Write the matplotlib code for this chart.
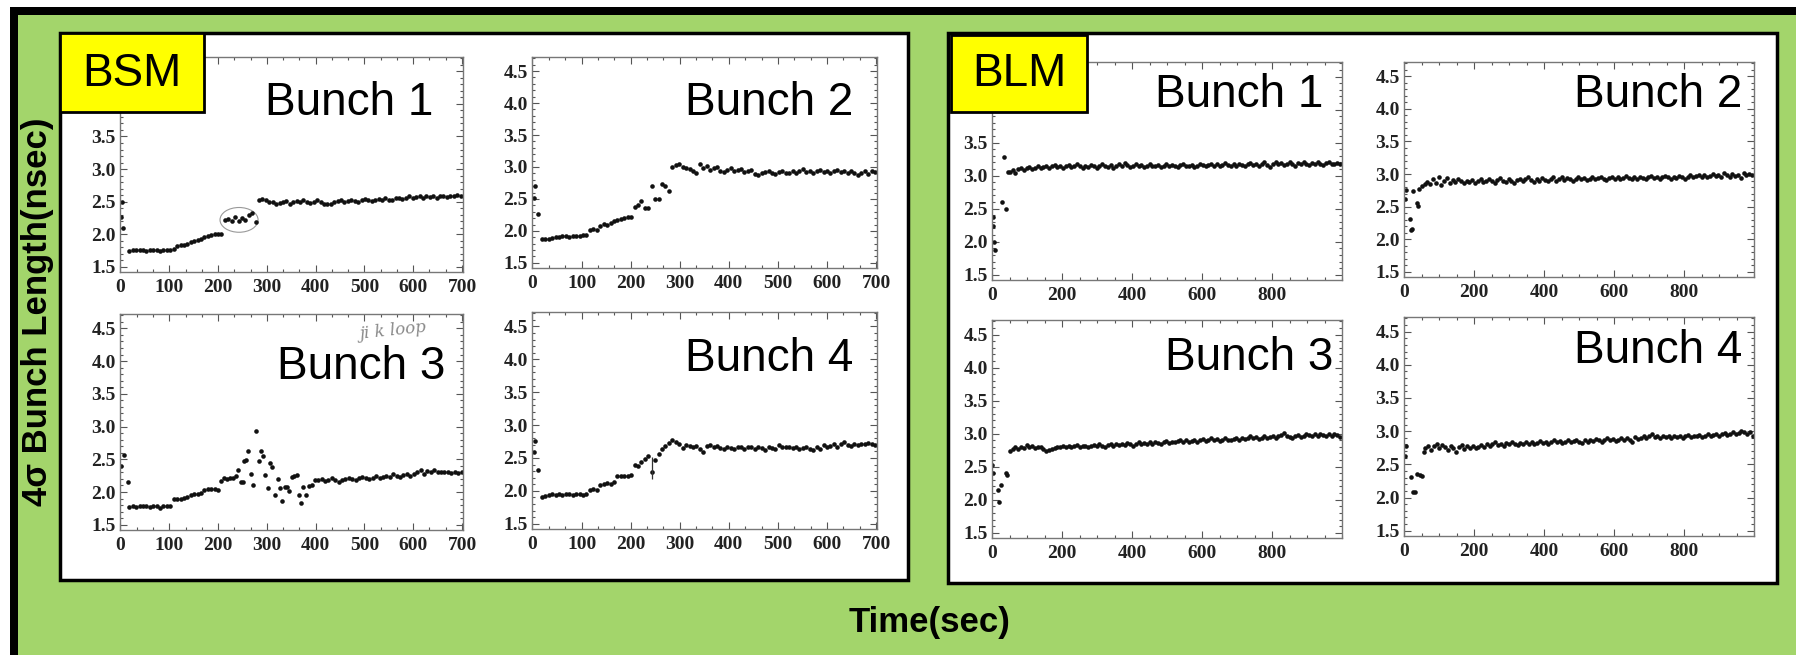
import matplotlib.pyplot as plt
from matplotlib.patches import Rectangle, Ellipse
from matplotlib.ticker import MultipleLocator
import numpy as np

W, H = 1796, 655
GREEN = '#a3d56b'

# ---------------- BSM (streak camera), sampled every 7 s ----------------
bsm1_early_t = [1, 4, 6]
bsm1_early_v = [2.27, 2.50, 2.09]
bsm1_v = [1.74, 1.75, 1.75, 1.76, 1.75, 1.74, 1.76, 1.75, 1.75, 1.74,
          1.75, 1.76, 1.75, 1.78, 1.82, 1.83, 1.84, 1.85, 1.88, 1.90,
          1.91, 1.93, 1.95, 1.97, 1.99, 2.00, 2.01, 2.01, 2.22, 2.24,
          2.21, 2.26, 2.20, 2.25, 2.22, 2.29, 2.33, 2.19, 2.53, 2.54,
          2.52, 2.50, 2.49, 2.47, 2.48, 2.50, 2.51, 2.46, 2.49, 2.51,
          2.49, 2.52, 2.50, 2.48, 2.50, 2.52, 2.49, 2.47, 2.46, 2.47,
          2.49, 2.51, 2.52, 2.50, 2.51, 2.53, 2.51, 2.50, 2.52, 2.54,
          2.52, 2.51, 2.53, 2.54, 2.52, 2.55, 2.53, 2.52, 2.55, 2.56,
          2.54, 2.56, 2.58, 2.55, 2.57, 2.59, 2.56, 2.58, 2.57, 2.59,
          2.56, 2.58, 2.59, 2.57, 2.59, 2.58, 2.60, 2.58]
bsm1_t0 = 18

bsm2_early_t = [3, 6, 12]
bsm2_early_v = [2.51, 2.71, 2.27]
bsm2_v = [1.87, 1.87, 1.88, 1.89, 1.91, 1.91, 1.92, 1.92, 1.91, 1.92,
          1.92, 1.92, 1.93, 1.93, 2.01, 2.03, 2.02, 2.08, 2.11, 2.10,
          2.13, 2.16, 2.17, 2.18, 2.20, 2.21, 2.21, 2.38, 2.41, 2.47,
          2.36, 2.36, 2.70, 2.50, 2.50, 2.73, 2.70, 2.63, 3.00, 3.03,
          3.05, 3.00, 2.99, 2.97, 2.94, 2.91, 3.04, 2.98, 3.01, 2.96,
          2.98, 3.00, 2.94, 2.92, 2.96, 2.98, 2.93, 2.95, 2.97, 2.92,
          2.94, 2.96, 2.89, 2.88, 2.90, 2.92, 2.94, 2.91, 2.89, 2.92,
          2.93, 2.90, 2.91, 2.93, 2.90, 2.94, 2.97, 2.92, 2.94, 2.91,
          2.93, 2.96, 2.92, 2.94, 2.90, 2.93, 2.95, 2.92, 2.94, 2.91,
          2.93, 2.90, 2.88, 2.91, 2.93, 2.89, 2.93, 2.92]
bsm2_t0 = 19

bsm3_early_t = [1, 8, 15]
bsm3_early_v = [2.40, 2.57, 2.15]
bsm3_v = [1.77, 1.78, 1.77, 1.78, 1.79, 1.78, 1.77, 1.79, 1.78, 1.76,
          1.78, 1.79, 1.78, 1.89, 1.90, 1.90, 1.91, 1.92, 1.96, 1.97,
          1.97, 1.98, 2.03, 2.04, 2.05, 2.04, 2.03]
bsm3_t0 = 18
# unstable stretch between 200 s and 400 s
bsm3_mid_t = [207, 212, 218, 224, 230, 236, 241, 246, 251, 253,
              258, 262, 267, 272, 277, 283, 287, 292, 297, 302,
              306, 311, 316, 322, 327, 332, 337, 342, 346, 351,
              356, 361, 366, 370, 375, 381, 386, 392]
bsm3_mid_v = [2.17, 2.21, 2.20, 2.22, 2.21, 2.24, 2.33, 2.16, 2.15, 2.47,
              2.49, 2.63, 2.28, 2.10, 2.94, 2.48, 2.63, 2.55, 2.26, 2.06,
              2.44, 2.38, 1.96, 2.20, 2.06, 1.86, 2.08, 2.08, 2.01, 2.23,
              2.25, 2.26, 1.96, 1.84, 2.07, 1.96, 2.09, 2.10]
bsm3_late_v = [2.19, 2.18, 2.20, 2.17, 2.19, 2.21, 2.18, 2.16, 2.19, 2.20,
               2.22, 2.20, 2.18, 2.21, 2.23, 2.22, 2.20, 2.22, 2.24, 2.21,
               2.23, 2.25, 2.23, 2.27, 2.25, 2.23, 2.26, 2.28, 2.25, 2.27,
               2.31, 2.33, 2.28, 2.32, 2.30, 2.33, 2.31, 2.30, 2.31, 2.30,
               2.29, 2.30, 2.29, 2.30]
bsm3_late_t0 = 398

bsm4_early_t = [3, 6, 12]
bsm4_early_v = [2.59, 2.76, 2.31]
bsm4_v = [1.91, 1.92, 1.94, 1.95, 1.94, 1.95, 1.94, 1.95, 1.95, 1.94,
          1.95, 1.95, 1.94, 1.95, 2.01, 2.03, 2.02, 2.09, 2.11, 2.12,
          2.11, 2.13, 2.22, 2.23, 2.22, 2.23, 2.24, 2.40, 2.38, 2.44,
          2.48, 2.53, 2.28, 2.47, 2.56, 2.63, 2.68, 2.73, 2.77, 2.75,
          2.71, 2.65, 2.70, 2.68, 2.66, 2.68, 2.64, 2.59, 2.68, 2.69,
          2.66, 2.68, 2.65, 2.64, 2.67, 2.65, 2.63, 2.66, 2.67, 2.64,
          2.66, 2.67, 2.64, 2.66, 2.65, 2.62, 2.66, 2.65, 2.63, 2.70,
          2.67, 2.66, 2.67, 2.65, 2.66, 2.64, 2.65, 2.67, 2.64, 2.62,
          2.67, 2.64, 2.70, 2.66, 2.68, 2.71, 2.67, 2.72, 2.74, 2.70,
          2.68, 2.71, 2.70, 2.72, 2.71, 2.73, 2.71, 2.69]
bsm4_t0 = 19
bsm4_bar_t = [243]
bsm4_bar_lo = [2.18]
bsm4_bar_hi = [2.52]

# ---------------- BLM (loss monitor), sampled every 8 s ----------------
blm1_early_t = [2, 3, 6, 9, 27, 34, 40, 45]
blm1_early_v = [2.38, 2.23, 2.00, 1.87, 2.60, 3.28, 2.49, 3.05]
blm1_v = [3.05, 3.08, 3.04, 3.10, 3.12, 3.09, 3.11, 3.13, 3.10, 3.12,
          3.14, 3.11, 3.13, 3.15, 3.12, 3.14, 3.16, 3.13, 3.15, 3.12,
          3.14, 3.16, 3.13, 3.15, 3.17, 3.14, 3.12, 3.15, 3.13, 3.16,
          3.14, 3.12, 3.15, 3.18, 3.14, 3.13, 3.16, 3.12, 3.15, 3.17,
          3.14, 3.19, 3.16, 3.13, 3.15, 3.17, 3.14, 3.16, 3.13, 3.15,
          3.18, 3.15, 3.14, 3.16, 3.13, 3.15, 3.17, 3.14, 3.16, 3.15,
          3.13, 3.16, 3.18, 3.15, 3.14, 3.16, 3.13, 3.15, 3.17, 3.16,
          3.14, 3.16, 3.18, 3.15, 3.17, 3.14, 3.16, 3.19, 3.16, 3.15,
          3.17, 3.15, 3.18, 3.16, 3.14, 3.17, 3.19, 3.16, 3.18, 3.15,
          3.17, 3.20, 3.16, 3.13, 3.18, 3.21, 3.17, 3.19, 3.16, 3.18,
          3.20, 3.17, 3.15, 3.19, 3.17, 3.20, 3.18, 3.16, 3.19, 3.17,
          3.20, 3.18, 3.16, 3.19, 3.21, 3.18, 3.17, 3.19, 3.18]
blm1_t0 = 50

blm2_early_t = [2, 5, 16, 20, 23, 26, 37, 40, 42]
blm2_early_v = [2.62, 2.75, 2.31, 2.14, 2.16, 2.74, 2.56, 2.51, 2.77]
blm2_v = [2.82, 2.85, 2.88, 2.84, 2.92, 2.87, 2.96, 2.83, 2.90, 2.94,
          2.86, 2.91, 2.88, 2.93, 2.89, 2.86, 2.90, 2.88, 2.91, 2.87,
          2.89, 2.92, 2.88, 2.90, 2.93, 2.89, 2.87, 2.91, 2.94, 2.90,
          2.88, 2.92, 2.90, 2.87, 2.91, 2.93, 2.89, 2.92, 2.95, 2.91,
          2.88, 2.93, 2.90, 2.94, 2.91, 2.89, 2.92, 2.96, 2.90, 2.93,
          2.95, 2.91, 2.94, 2.92, 2.89, 2.93, 2.96, 2.92, 2.94, 2.91,
          2.93, 2.95, 2.92, 2.94, 2.96, 2.93, 2.91, 2.94, 2.96, 2.93,
          2.95, 2.92, 2.94, 2.97, 2.94, 2.92, 2.95, 2.93, 2.96, 2.94,
          2.92, 2.95, 2.97, 2.94, 2.96, 2.93, 2.95, 2.97, 2.95, 2.93,
          2.96, 2.94, 2.97, 2.95, 2.93, 2.96, 2.98, 2.95, 2.97, 2.99,
          2.96, 2.98, 2.95, 2.97, 3.00, 2.97, 2.99, 2.96, 3.01, 2.98,
          2.96, 3.00, 2.97, 2.99, 2.94, 3.01, 2.98, 3.00, 2.99]
blm2_t0 = 50

blm3_early_t = [0, 3, 15, 18, 25, 38, 41]
blm3_early_v = [2.52, 2.40, 2.15, 1.97, 2.22, 2.40, 2.38]
blm3_v = [2.74, 2.77, 2.79, 2.76, 2.80, 2.78, 2.83, 2.79, 2.81, 2.78,
          2.80, 2.79, 2.76, 2.73, 2.75, 2.77, 2.78, 2.80, 2.79, 2.81,
          2.80, 2.82, 2.79, 2.81, 2.83, 2.80, 2.82, 2.81, 2.79, 2.82,
          2.83, 2.81, 2.84, 2.82, 2.80, 2.83, 2.85, 2.82, 2.84, 2.83,
          2.85, 2.83, 2.86, 2.84, 2.82, 2.85, 2.87, 2.84, 2.86, 2.85,
          2.87, 2.85, 2.88, 2.86, 2.84, 2.87, 2.89, 2.86, 2.88, 2.87,
          2.89, 2.91, 2.88, 2.90, 2.87, 2.89, 2.91, 2.88, 2.90, 2.92,
          2.89, 2.91, 2.93, 2.90, 2.92, 2.89, 2.91, 2.93, 2.91, 2.90,
          2.92, 2.94, 2.91, 2.93, 2.92, 2.94, 2.96, 2.93, 2.95, 2.92,
          2.94, 2.96, 2.93, 2.95, 2.97, 2.94, 2.96, 2.98, 3.01, 2.97,
          2.95, 2.93, 2.96, 2.98, 2.95, 2.97, 3.00, 2.98, 2.96, 2.99,
          2.97, 3.00, 2.98, 2.96, 2.99, 2.97, 3.00, 2.98, 2.95]
blm3_t0 = 50

blm4_early_t = [2, 4, 18, 25, 30, 37, 44, 51, 56]
blm4_early_v = [2.62, 2.77, 2.31, 2.08, 2.09, 2.36, 2.34, 2.33, 2.69]
blm4_v = [2.75, 2.78, 2.72, 2.77, 2.80, 2.74, 2.79, 2.76, 2.71, 2.78,
          2.74, 2.68, 2.76, 2.79, 2.73, 2.77, 2.75, 2.78, 2.74, 2.76,
          2.79, 2.76, 2.81, 2.77, 2.80, 2.83, 2.79, 2.81, 2.78, 2.82,
          2.80, 2.83, 2.81, 2.79, 2.82, 2.80, 2.84, 2.81, 2.83, 2.80,
          2.82, 2.85, 2.82, 2.84, 2.81, 2.83, 2.86, 2.83, 2.85, 2.82,
          2.84, 2.86, 2.83, 2.85, 2.87, 2.84, 2.82, 2.86, 2.84, 2.87,
          2.85, 2.88, 2.86, 2.84, 2.87, 2.89, 2.86, 2.88, 2.85, 2.87,
          2.90, 2.87, 2.89, 2.86, 2.84, 2.91, 2.88, 2.90, 2.93, 2.89,
          2.92, 2.95, 2.91, 2.93, 2.90, 2.92, 2.91, 2.93, 2.90, 2.92,
          2.91, 2.93, 2.90, 2.92, 2.94, 2.91, 2.93, 2.92, 2.94, 2.91,
          2.93, 2.95, 2.92, 2.94, 2.96, 2.93, 2.95, 2.97, 2.94, 2.96,
          2.98, 2.95, 2.97, 3.00, 2.98, 2.96, 2.99, 2.93]
blm4_t0 = 60

y_ticks = [1.5, 2.0, 2.5, 3.0, 3.5, 4.0, 4.5]
y_labels = ['1.5', '2.0', '2.5', '3.0', '3.5', '4.0', '4.5']
# the top two labels of the first panels sit under the yellow tags
y_labels_tagged = ['1.5', '2.0', '2.5', '3.0', '3.5', '', '']
bsm_ticks = [0, 100, 200, 300, 400, 500, 600, 700]
blm_ticks = [0, 200, 400, 600, 800]


def sampled(t0, step, vals):
    return t0 + step * np.arange(len(vals))


fig = plt.figure(figsize=(W / 100, H / 100), dpi=100, facecolor='white')


def rect(x0, y0, x1, y1, **kw):
    fig.patches.append(Rectangle((x0 / W, 1 - y1 / H), (x1 - x0) / W, (y1 - y0) / H,
                                 transform=fig.transFigure, **kw))


def ftext(x, y, s, **kw):
    fig.text(x / W, 1 - y / H, s, **kw)


# backdrop: green slide, black frame, white panels
rect(18, 15, W, H, facecolor=GREEN, edgecolor='none', zorder=-5)
rect(10, 7, W, 15, facecolor='black', edgecolor='none', zorder=-4)
rect(10, 7, 18, H, facecolor='black', edgecolor='none', zorder=-4)
rect(60, 33, 908, 580, facecolor='white', edgecolor='black', lw=2.5, zorder=-3)
rect(948, 33, 1777, 583, facecolor='white', edgecolor='black', lw=2.5, zorder=-3)

tick_font = dict(family='Liberation Serif', weight='bold', size=14)


def make_axes(left, top, right, bottom, xmax, xticks, minor_step, ylabels):
    ax = fig.add_axes([left / W, 1 - bottom / H, (right - left) / W, (bottom - top) / H])
    ax.set_facecolor('none')
    ax.set_xlim(-1, xmax)
    ax.set_ylim(1.42, 4.72)
    ax.set_xticks(xticks)
    ax.xaxis.set_minor_locator(MultipleLocator(minor_step))
    ax.set_yticks(y_ticks)
    ax.yaxis.set_minor_locator(MultipleLocator(0.1))
    ax.set_xticklabels([str(v) for v in xticks], fontdict=tick_font, color='#222')
    ax.set_yticklabels(ylabels, fontdict=tick_font, color='#222')
    ax.tick_params(which='both', direction='in', top=True, right=True,
                   color='#555', width=0.8)
    ax.tick_params(which='major', length=5)
    ax.tick_params(which='minor', length=2.5)
    ax.tick_params(axis='x', pad=5)
    ax.tick_params(axis='y', pad=3)
    for sp in ax.spines.values():
        sp.set_color('#777')
        sp.set_linewidth(1.0)
    return ax


def dots(ax, t, v):
    ax.plot(t, v, 'o', ms=3.3, color='#111', mec='none')


ax1 = make_axes(120, 57, 463, 272, 702, bsm_ticks, 100 / 3, y_labels_tagged)
dots(ax1, bsm1_early_t, bsm1_early_v)
dots(ax1, sampled(bsm1_t0, 7, bsm1_v), bsm1_v)
ax1.add_patch(Ellipse((243, 2.22), 78, 0.38, fill=False, ec='#999', lw=0.8))

ax2 = make_axes(532, 57, 877, 268, 702, bsm_ticks, 100 / 3, y_labels)
dots(ax2, bsm2_early_t, bsm2_early_v)
dots(ax2, sampled(bsm2_t0, 7, bsm2_v), bsm2_v)

ax3 = make_axes(120, 314, 463, 530, 702, bsm_ticks, 100 / 3, y_labels)
dots(ax3, bsm3_early_t, bsm3_early_v)
dots(ax3, sampled(bsm3_t0, 7, bsm3_v), bsm3_v)
dots(ax3, bsm3_mid_t, bsm3_mid_v)
dots(ax3, sampled(bsm3_late_t0, 7, bsm3_late_v), bsm3_late_v)

ax4 = make_axes(532, 312, 877, 529, 702, bsm_ticks, 100 / 3, y_labels)
dots(ax4, bsm4_early_t, bsm4_early_v)
dots(ax4, sampled(bsm4_t0, 7, bsm4_v), bsm4_v)
ax4.vlines(bsm4_bar_t, bsm4_bar_lo, bsm4_bar_hi, color='#333', lw=0.9)

ax5 = make_axes(992, 62, 1342, 280, 1000, blm_ticks, 50, y_labels_tagged)
dots(ax5, blm1_early_t, blm1_early_v)
dots(ax5, sampled(blm1_t0, 8, blm1_v), blm1_v)

ax6 = make_axes(1404, 62, 1754, 277, 1000, blm_ticks, 50, y_labels)
dots(ax6, blm2_early_t, blm2_early_v)
dots(ax6, sampled(blm2_t0, 8, blm2_v), blm2_v)

ax7 = make_axes(992, 320, 1342, 538, 1000, blm_ticks, 50, y_labels)
dots(ax7, blm3_early_t, blm3_early_v)
dots(ax7, sampled(blm3_t0, 8, blm3_v), blm3_v)

ax8 = make_axes(1404, 317, 1754, 536, 1000, blm_ticks, 50, y_labels)
dots(ax8, blm4_early_t, blm4_early_v)
dots(ax8, sampled(blm4_t0, 8, blm4_v), blm4_v)

# panel titles
big = dict(family='Liberation Sans', size=33, ha='right', va='baseline', color='black')
ftext(433, 115, 'Bunch 1', **big)
ftext(853, 115, 'Bunch 2', **big)
ftext(445, 379, 'Bunch 3', **big)
ftext(853, 371, 'Bunch 4', **big)
ftext(1323, 107, 'Bunch 1', **big)
ftext(1742, 107, 'Bunch 2', **big)
ftext(1333, 370, 'Bunch 3', **big)
ftext(1742, 363, 'Bunch 4', **big)

# pencil note on bunch 3
ftext(393, 331, 'ji k loop', family='DejaVu Serif', style='italic', size=12,
      color='#8a8a8a', ha='center', va='center', rotation=6)

# yellow tags
rect(60, 33, 204, 112, facecolor='#ffff00', edgecolor='black', lw=2, zorder=5)
rect(951, 35, 1087, 112, facecolor='#ffff00', edgecolor='black', lw=2, zorder=5)
ftext(132, 74, 'BSM', family='Liberation Sans', size=33, ha='center', va='center', zorder=6)
ftext(1019, 74, 'BLM', family='Liberation Sans', size=33, ha='center', va='center', zorder=6)

# shared axis titles
ftext(38, 312, '4\u03c3 Bunch Length(nsec)', family='Liberation Sans', weight='bold',
      size=25, rotation=90, ha='center', va='center')
ftext(930, 632, 'Time(sec)', family='Liberation Sans', weight='bold', size=25,
      ha='center', va='baseline')

plt.savefig('out.png', dpi=100, facecolor=fig.get_facecolor())
